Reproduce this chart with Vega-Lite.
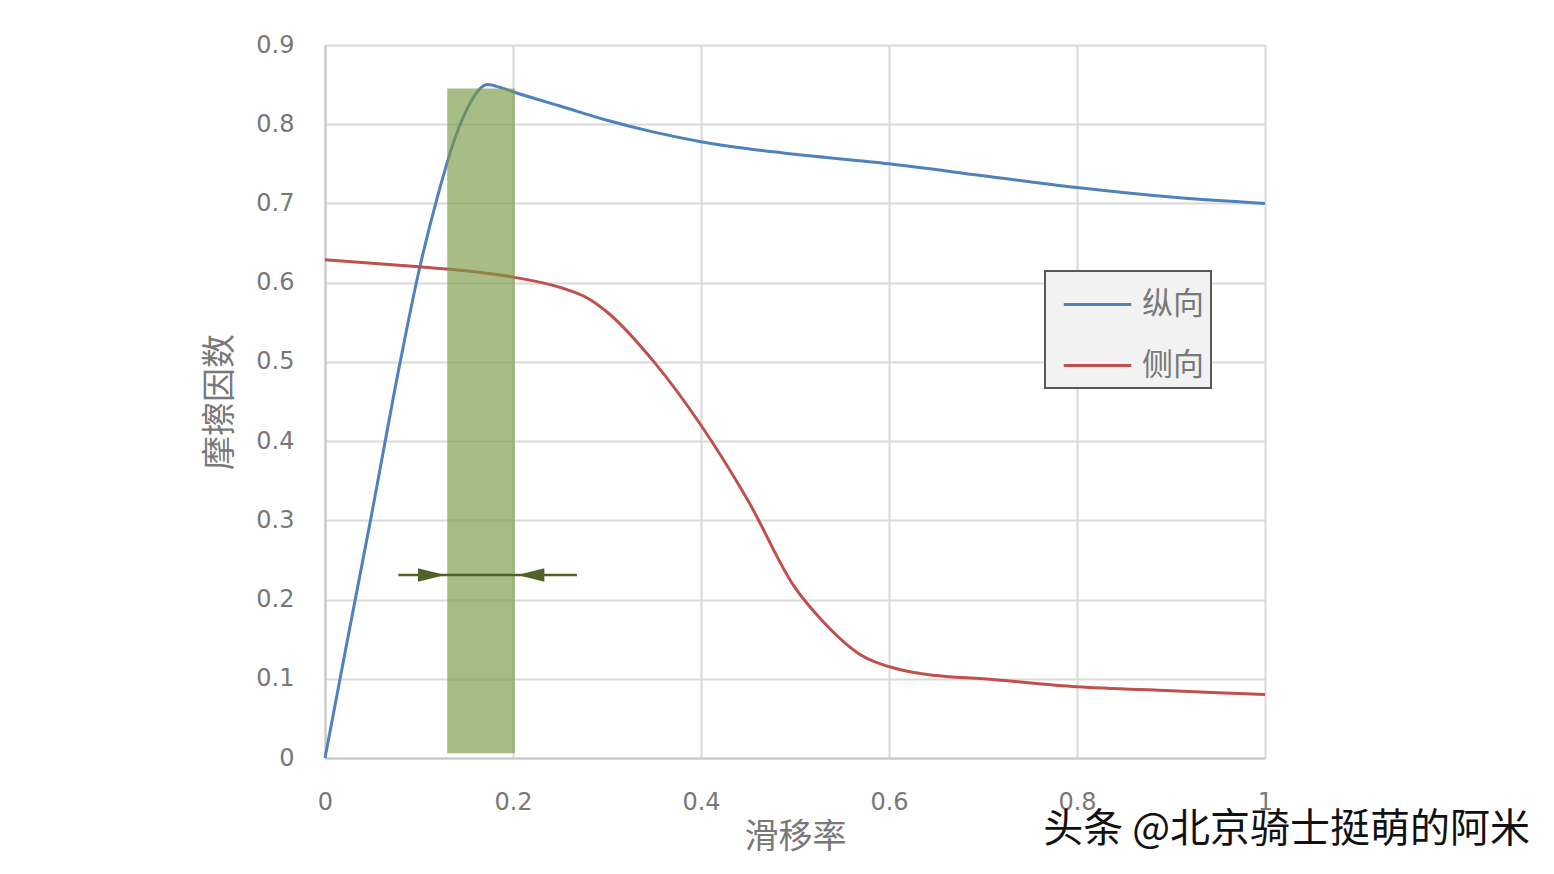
{
  "$schema": "https://vega.github.io/schema/vega-lite/v6.json",
  "autosize": {"type": "none"},
  "padding": {"left": 325, "top": 45, "right": 289, "bottom": 116},
  "width": 940,
  "height": 713,
  "background": "white",
  "config": {
    "view": {"stroke": null},
    "font": "Noto Sans CJK SC",
    "axis": {
      "gridColor": "#d9d9d9",
      "gridWidth": 2,
      "domainColor": "#c8c8c8",
      "domainWidth": 2,
      "ticks": false,
      "labelColor": "#787878",
      "labelFont": "DejaVu Sans",
      "labelFontSize": 24,
      "labelFlush": false,
      "labelOverlap": false,
      "titleColor": "#787878",
      "titleFont": "Noto Sans CJK SC",
      "titleFontSize": 34,
      "titleFontWeight": "normal"
    }
  },
  "title": {
    "text": "头条 @北京骑士挺萌的阿米",
    "orient": "bottom",
    "anchor": "end",
    "frame": "group",
    "dx": 265,
    "offset": -44,
    "fontSize": 40,
    "font": "Noto Sans CJK SC",
    "fontWeight": "normal",
    "color": "#111111"
  },
  "datasets": {
    "curves": [
      {"s": "纵向", "x": 0, "y": 0},
      {"s": "纵向", "x": 0.02, "y": 0.125},
      {"s": "纵向", "x": 0.05, "y": 0.31},
      {"s": "纵向", "x": 0.08, "y": 0.5},
      {"s": "纵向", "x": 0.1, "y": 0.615},
      {"s": "纵向", "x": 0.12, "y": 0.71},
      {"s": "纵向", "x": 0.14, "y": 0.788},
      {"s": "纵向", "x": 0.155, "y": 0.828},
      {"s": "纵向", "x": 0.165, "y": 0.845},
      {"s": "纵向", "x": 0.173, "y": 0.85},
      {"s": "纵向", "x": 0.185, "y": 0.847},
      {"s": "纵向", "x": 0.2, "y": 0.841},
      {"s": "纵向", "x": 0.25, "y": 0.823},
      {"s": "纵向", "x": 0.3, "y": 0.805},
      {"s": "纵向", "x": 0.35, "y": 0.79},
      {"s": "纵向", "x": 0.4, "y": 0.778},
      {"s": "纵向", "x": 0.45, "y": 0.769},
      {"s": "纵向", "x": 0.5, "y": 0.762},
      {"s": "纵向", "x": 0.6, "y": 0.75},
      {"s": "纵向", "x": 0.7, "y": 0.735},
      {"s": "纵向", "x": 0.8, "y": 0.72},
      {"s": "纵向", "x": 0.9, "y": 0.708},
      {"s": "纵向", "x": 1, "y": 0.7},
      {"s": "侧向", "x": 0, "y": 0.629},
      {"s": "侧向", "x": 0.1, "y": 0.62},
      {"s": "侧向", "x": 0.15, "y": 0.615},
      {"s": "侧向", "x": 0.2, "y": 0.607},
      {"s": "侧向", "x": 0.25, "y": 0.594},
      {"s": "侧向", "x": 0.28, "y": 0.58},
      {"s": "侧向", "x": 0.3, "y": 0.563},
      {"s": "侧向", "x": 0.35, "y": 0.5},
      {"s": "侧向", "x": 0.4, "y": 0.42},
      {"s": "侧向", "x": 0.45, "y": 0.325},
      {"s": "侧向", "x": 0.5, "y": 0.215},
      {"s": "侧向", "x": 0.53, "y": 0.172},
      {"s": "侧向", "x": 0.57, "y": 0.13},
      {"s": "侧向", "x": 0.61, "y": 0.112},
      {"s": "侧向", "x": 0.65, "y": 0.104},
      {"s": "侧向", "x": 0.7, "y": 0.1},
      {"s": "侧向", "x": 0.8, "y": 0.09},
      {"s": "侧向", "x": 0.9, "y": 0.085},
      {"s": "侧向", "x": 1, "y": 0.08}
    ],
    "band": [{"x": 0.13, "x2": 0.202, "y": 0.006, "y2": 0.845}],
    "arrow": [{"x": 0.078, "x2": 0.268, "y": 0.231}],
    "heads": [
      {"x": 0.1133, "y": 0.231, "dir": "right"},
      {"x": 0.219, "y": 0.231, "dir": "left"}
    ]
  },
  "layer": [
    {
      "data": {"name": "curves"},
      "mark": {"type": "line", "strokeWidth": 3, "interpolate": "monotone"},
      "encoding": {
        "x": {
          "field": "x", "type": "quantitative",
          "scale": {"domain": [0, 1], "nice": false},
          "axis": {"values": [0, 0.2, 0.4, 0.6, 0.8, 1], "format": "~g", "labelPadding": 32, "title": "滑移率", "titlePadding": 6}
        },
        "y": {
          "field": "y", "type": "quantitative",
          "scale": {"domain": [0, 0.9], "nice": false},
          "axis": {"values": [0, 0.1, 0.2, 0.3, 0.4, 0.5, 0.6, 0.7, 0.8, 0.9], "format": ".1~f", "labelPadding": 31, "title": "摩擦因数", "titlePadding": 18}
        },
        "color": {
          "field": "s", "type": "nominal",
          "scale": {"domain": ["纵向", "侧向"], "range": ["#4f81bd", "#c0504d"]},
          "legend": {
            "title": null,
            "orient": "none",
            "legendX": 720,
            "legendY": 226,
            "symbolType": "M-1.35,0H1.35",
            "symbolSize": 2500,
            "symbolStrokeWidth": 3,
            "symbolOffset": 19,
            "labelFontSize": 31,
            "labelColor": "#787878",
            "labelFont": "Noto Sans CJK SC",
            "labelOffset": 18,
            "rowPadding": 19,
            "padding": 7,
            "fillColor": "#f2f2f2",
            "strokeColor": "#595959",
            "encode": {"legend": {"update": {"strokeWidth": {"value": 2}}}}
          }
        }
      }
    },
    {
      "data": {"name": "band"},
      "mark": {"type": "rect", "color": "#7a9a45", "opacity": 0.65},
      "encoding": {
        "x": {"field": "x", "type": "quantitative"},
        "x2": {"field": "x2"},
        "y": {"field": "y", "type": "quantitative"},
        "y2": {"field": "y2"}
      }
    },
    {
      "data": {"name": "arrow"},
      "mark": {"type": "rule", "color": "#4f6228", "strokeWidth": 2.5},
      "encoding": {
        "x": {"field": "x", "type": "quantitative"},
        "x2": {"field": "x2"},
        "y": {"field": "y", "type": "quantitative"}
      }
    },
    {
      "data": {"name": "heads"},
      "mark": {"type": "point", "filled": true, "color": "#4f6228", "opacity": 1, "size": 729},
      "encoding": {
        "x": {"field": "x", "type": "quantitative"},
        "y": {"field": "y", "type": "quantitative"},
        "shape": {"field": "dir", "type": "nominal", "scale": {"domain": ["right", "left"], "range": ["M-1,-0.5L1,0L-1,0.5Z", "M1,-0.5L-1,0L1,0.5Z"]}, "legend": null}
      }
    }
  ]
}
